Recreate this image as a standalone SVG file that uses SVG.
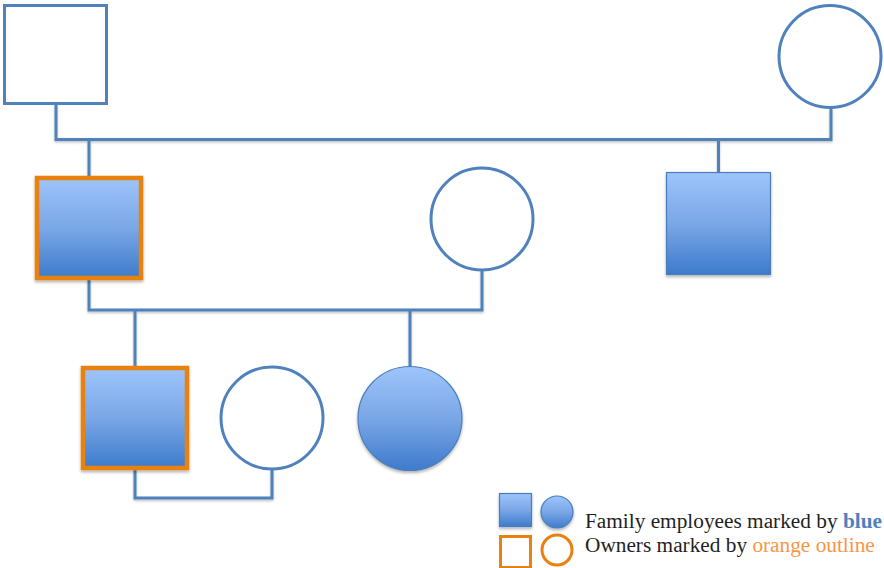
<svg xmlns="http://www.w3.org/2000/svg" width="884" height="568" viewBox="0 0 884 568">
  <defs>
    <linearGradient id="blueFill" x1="0" y1="0" x2="0" y2="1">
      <stop offset="0" stop-color="#9ec4fb"/>
      <stop offset="0.5" stop-color="#7aa7e6"/>
      <stop offset="1" stop-color="#3d7bcc"/>
    </linearGradient>
    <filter id="shadow" x="-10%" y="-10%" width="130%" height="130%">
      <feDropShadow dx="0" dy="2" stdDeviation="1.5" flood-color="#000" flood-opacity="0.3"/>
    </filter>
    <filter id="lineShadow" x="-5%" y="-5%" width="110%" height="120%">
      <feDropShadow dx="0" dy="1.5" stdDeviation="1" flood-color="#000" flood-opacity="0.25"/>
    </filter>
  </defs>
  <style>
    .link { fill: none; stroke: #4f81bd; stroke-width: 3; }
    .plain { fill: #ffffff; stroke: #4f81bd; stroke-width: 3; }
    .staff { fill: url(#blueFill); stroke: #4a7ebb; stroke-width: 1.2; filter: url(#shadow); }
    .owner { fill: url(#blueFill); stroke: #e8810e; stroke-width: 4.5; filter: url(#shadow); }
    .ownerKey { fill: #ffffff; stroke: #e8810e; stroke-width: 3; }
    .label { font-family: "Liberation Serif", "Times New Roman", serif; font-size: 21.3px; fill: #1f1f1f; }
    .blue { fill: #4f81bd; font-weight: bold; }
    .orange { fill: #f79646; }
  </style>

  <rect width="884" height="568" fill="#ffffff"/>

  <!-- family tree connectors -->
  <g id="connectors" filter="url(#lineShadow)">
    <!-- first-generation couple -->
    <polyline class="link" points="56,104 56,139.5 831,139.5 831,108"/>
    <line class="link" x1="89" y1="139.5" x2="89" y2="178"/>
    <line class="link" x1="718.5" y1="139.5" x2="718.5" y2="172.5"/>
    <!-- second-generation couple -->
    <polyline class="link" points="89,280 89,310 482,310 482,270"/>
    <line class="link" x1="135" y1="310" x2="135" y2="368"/>
    <line class="link" x1="410" y1="310" x2="410" y2="367"/>
    <!-- third-generation couple -->
    <polyline class="link" points="135,470 135,498 272,498 272,469"/>
  </g>

  <!-- generation 1 -->
  <g id="grandfather">
    <rect class="plain" x="4.5" y="5.5" width="102" height="98"/>
  </g>
  <g id="grandmother">
    <circle class="plain" cx="830" cy="56.5" r="51"/>
  </g>

  <!-- generation 2 -->
  <g id="father">
    <rect class="owner" x="37" y="178" width="104" height="100"/>
  </g>
  <g id="mother">
    <circle class="plain" cx="482" cy="219" r="51"/>
  </g>
  <g id="uncle">
    <rect class="staff" x="666.5" y="172.5" width="104" height="102"/>
  </g>

  <!-- generation 3 -->
  <g id="son">
    <rect class="owner" x="83" y="368" width="104" height="100"/>
  </g>
  <g id="daughter-in-law">
    <circle class="plain" cx="272" cy="418" r="51"/>
  </g>
  <g id="daughter">
    <circle class="staff" cx="410" cy="418.5" r="52"/>
  </g>

  <!-- legend -->
  <g id="legend">
    <rect class="staff" x="499.5" y="493.5" width="32" height="33"/>
    <circle class="staff" cx="557" cy="512" r="16"/>
    <rect class="ownerKey" x="500.5" y="536.5" width="30" height="31"/>
    <circle class="ownerKey" cx="557" cy="550" r="15"/>
    <text class="label" x="585" y="528">Family employees marked by <tspan class="blue">blue</tspan></text>
    <text class="label" x="585" y="552">Owners marked by <tspan class="orange">orange outline</tspan></text>
  </g>
</svg>
